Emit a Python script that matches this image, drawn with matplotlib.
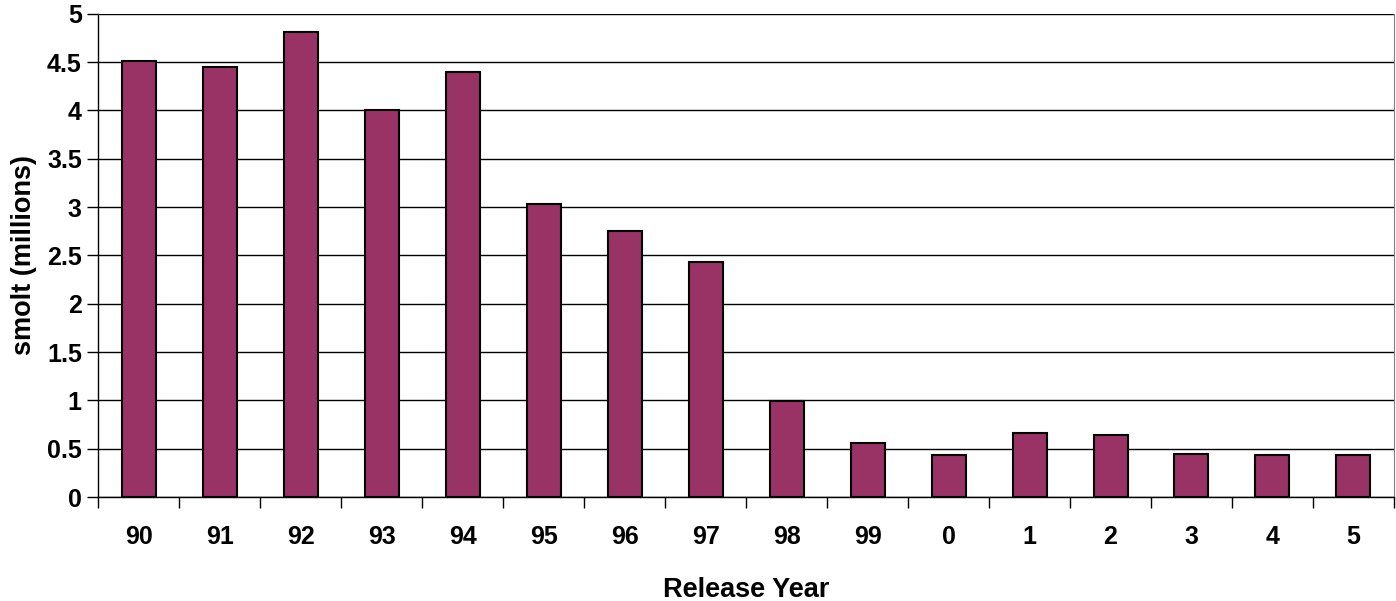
import matplotlib
matplotlib.use("Agg")
import matplotlib.pyplot as plt
import numpy as np

years = ["90", "91", "92", "93", "94", "95", "96", "97", "98", "99",
         "0", "1", "2", "3", "4", "5"]
smolt = [4.51, 4.45, 4.81, 4.00, 4.40, 3.03, 2.75, 2.43, 0.99, 0.555,
         0.435, 0.66, 0.64, 0.45, 0.435, 0.435]
y_ticks = [0, 0.5, 1, 1.5, 2, 2.5, 3, 3.5, 4, 4.5, 5]
y_tick_labels = ["0", "0.5", "1", "1.5", "2", "2.5", "3", "3.5", "4", "4.5", "5"]

plt.rcParams['font.family'] = ['Liberation Sans', 'DejaVu Sans']
plt.rcParams['font.weight'] = 'bold'

fig = plt.figure(figsize=(13.96, 6.01), dpi=100)
ax = fig.add_axes([0.0705, 0.173, 0.928, 0.804])

x = np.arange(len(years))
ax.set_axisbelow(True)
ax.yaxis.grid(True, color='black', linewidth=1)
ax.bar(x, smolt, width=0.42, color='#993366', edgecolor='black', linewidth=1.5, zorder=3)

ax.set_xlim(-0.5, len(years) - 0.5)
ax.set_ylim(0, 5)
ax.set_yticks(y_ticks)
ax.set_yticklabels(y_tick_labels, fontsize=18, fontweight='bold')
ax.set_xticks(x)
ax.set_xticklabels(years, fontsize=18, fontweight='bold')
ax.tick_params(axis='x', length=0, pad=20)
ax.set_xticks(np.arange(len(years) + 1) - 0.5, minor=True)
ax.tick_params(axis='x', which='minor', length=8, direction='out', width=1)
ax.tick_params(axis='y', length=8, direction='out', width=1, pad=4)

ax.spines['top'].set_visible(False)
ax.spines['left'].set_linewidth(1)
ax.spines['bottom'].set_linewidth(1)
ax.spines['right'].set_color('gray')

ax.set_xlabel('Release Year', fontsize=19.5, fontweight='bold', labelpad=20)
ax.set_ylabel('smolt (millions)', fontsize=19.5, fontweight='bold', labelpad=7)

fig.savefig('out.png', dpi=100)
